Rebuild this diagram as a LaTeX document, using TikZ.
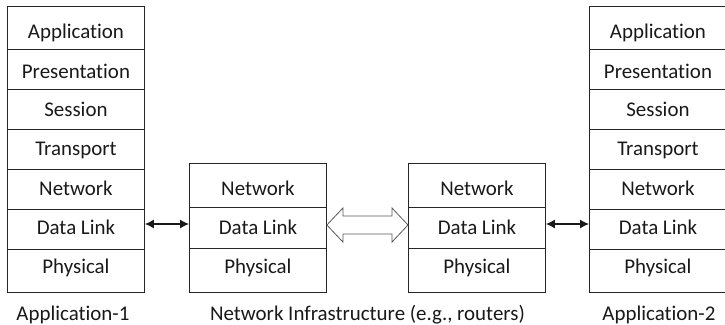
\documentclass[tikz,border=0pt]{standalone}
\usepackage{fontspec}
\setmainfont{Carlito}[Ligatures=NoCommon]
\usetikzlibrary{calc,arrows.meta}
\begin{document}
\begin{tikzpicture}[x=1bp,y=-1bp,
  cell/.style={draw=black!85, line width=0.9bp, minimum width=137bp, inner sep=0pt, anchor=north west},
  lbl/.style={font=\fontsize{21}{24}\selectfont, text height=0.66em, text depth=0pt, inner sep=0pt, text=black!90, yshift=-4bp},
  dart/.style={{Latex[length=9bp,width=9bp]}-{Latex[length=9bp,width=9bp]}, line width=1.2bp, draw=black!90},
  bigarrow/.style={draw=black!65, line width=0.8bp, fill=white}]
\useasboundingbox (0,0) rectangle (725,324);

% left stack
\node[cell, minimum height=43bp] (L1) at (7,6) {};
\node[cell, minimum height=40bp] (L2) at (7,49) {};
\node[cell, minimum height=40bp] (L3) at (7,89) {};
\node[cell, minimum height=40bp] (L4) at (7,129) {};
\node[cell, minimum height=40bp] (L5) at (7,169) {};
\node[cell, minimum height=40bp] (L6) at (7,209) {};
\node[cell, minimum height=43bp] (L7) at (7,249) {};
% right stack
\node[cell, minimum height=43bp] (P1) at (589,6) {};
\node[cell, minimum height=40bp] (P2) at (589,49) {};
\node[cell, minimum height=40bp] (P3) at (589,89) {};
\node[cell, minimum height=40bp] (P4) at (589,129) {};
\node[cell, minimum height=40bp] (P5) at (589,169) {};
\node[cell, minimum height=40bp] (P6) at (589,209) {};
\node[cell, minimum height=43bp] (P7) at (589,249) {};
% routers
\node[cell, minimum height=44bp] (Ra) at (189,163) {};
\node[cell, minimum height=41bp] (Rb) at (189,207) {};
\node[cell, minimum height=44bp] (Rc) at (189,248) {};
\node[cell, minimum height=44bp] (Sa) at (408,163) {};
\node[cell, minimum height=41bp] (Sb) at (408,207) {};
\node[cell, minimum height=44bp] (Sc) at (408,248) {};

% texts
\foreach \s in {L,P}{
  \node[lbl] (\s t1) at (\s1.center |- 0,31) {Application};
  \node[lbl] (\s t2) at (\s2.center |- 0,71) {Presentation};
  \node[lbl] (\s t3) at (\s3.center |- 0,109) {Session};
  \node[lbl] (\s t4) at (\s4.center |- 0,148) {Transport};
  \node[lbl] (\s t5) at (\s5.center |- 0,188) {Network};
  \node[lbl] (\s t6) at (\s6.center |- 0,227) {Data Link};
  \node[lbl] (\s t7) at (\s7.center |- 0,266) {Physical};
}
\foreach \s in {R,S}{
  \node[lbl] (\s ta) at (\s a.center |- 0,188) {Network};
  \node[lbl] (\s tb) at (\s b.center |- 0,227) {Data Link};
  \node[lbl] (\s tc) at (\s c.center |- 0,266) {Physical};
}

% captions
\coordinate (mid) at ($(Rc.south)!0.5!(Sc.south)$);
\node[lbl] (cap1) at (73,313) {Application-1};
\node[lbl] (cap2) at (mid |- 0,313) {Network Infrastructure (e.g., routers)};
\node[lbl] (cap3) at (659,313) {Application-2};

% connectors
\coordinate (ay) at (0,224);
\draw[dart] (L6.east |- ay) -- (Rb.west |- ay);
\draw[dart] (Sb.east |- ay) -- (P6.west |- ay);

\coordinate (bl) at (Rb.east |- 0,225);
\coordinate (br) at (Sb.west |- 0,225);
\draw[bigarrow] (bl) -- ++(16,-17) -- ++(0,8) -- ($(br)+(-16,-9)$) -- ++(0,-8) -- (br)
  -- ++(-16,17) -- ++(0,-8) -- ($(bl)+(16,9)$) -- ++(0,8) -- cycle;
\end{tikzpicture}
\end{document}
